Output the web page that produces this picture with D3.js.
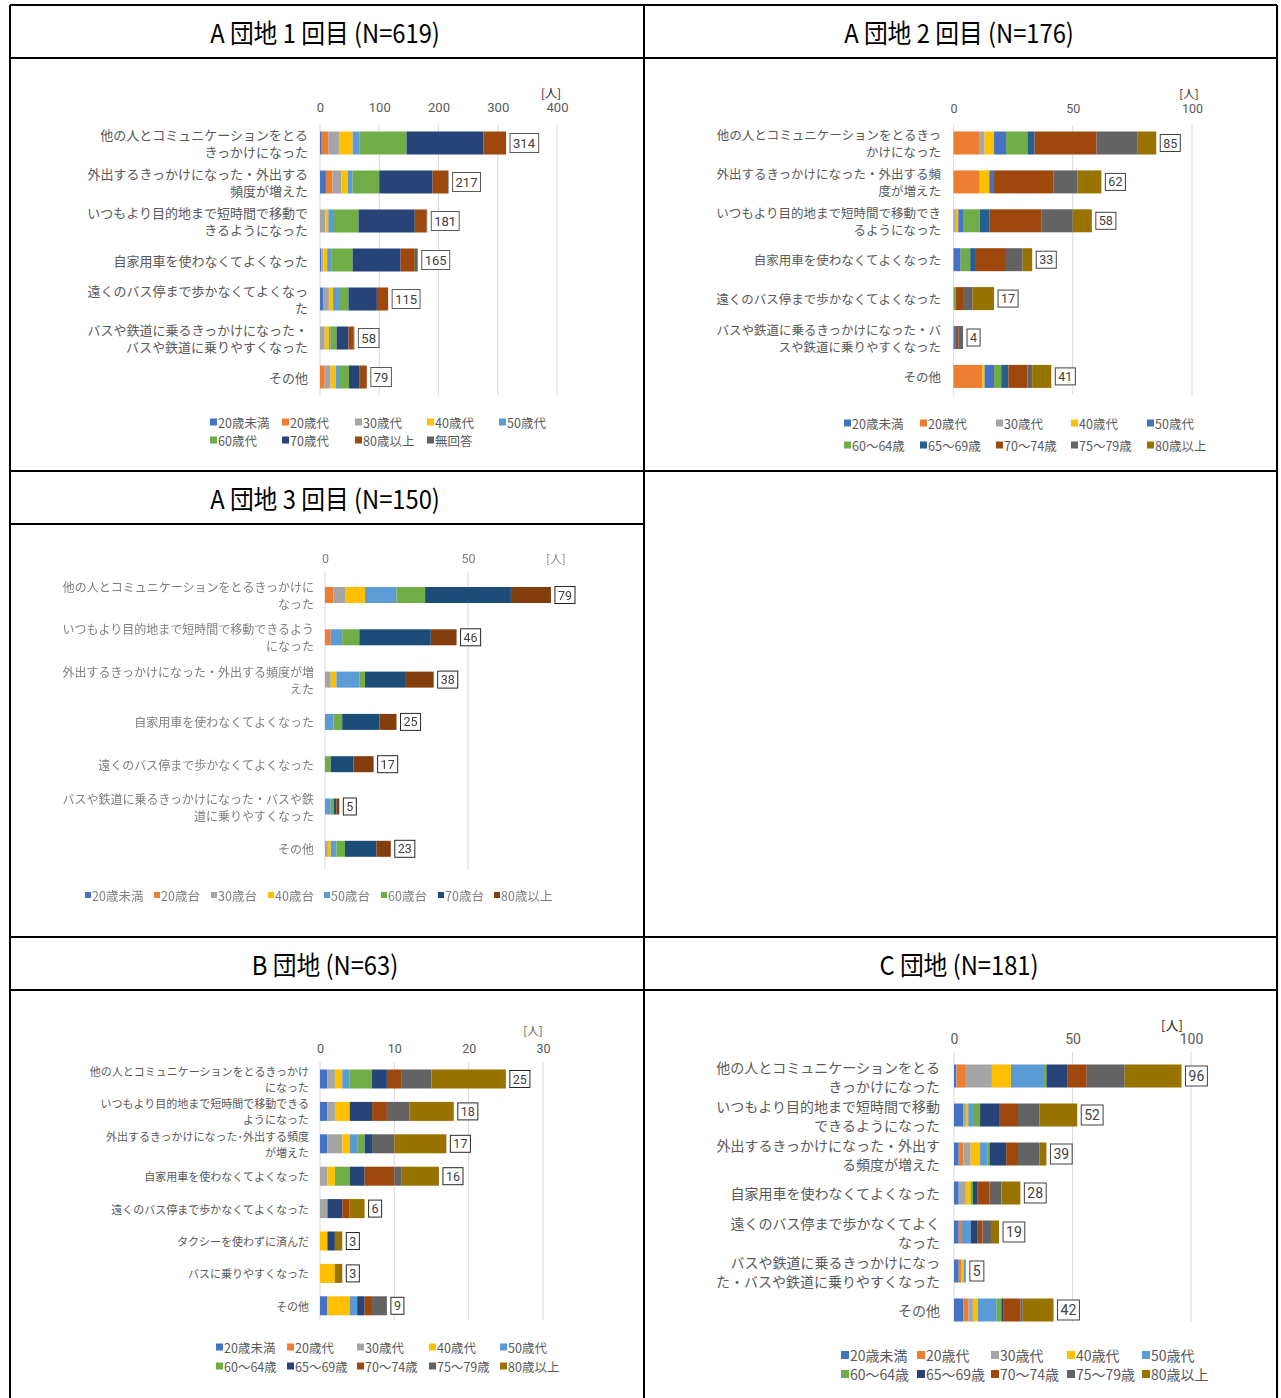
<!DOCTYPE html>
<html lang="ja">
<head>
<meta charset="utf-8">
<script src="https://cdn.jsdelivr.net/npm/d3@7"></script>
<style>
  html, body { margin: 0; padding: 0; background: #fff; }
  svg { display: block; font-family: "Noto Sans CJK JP", "Noto Sans", sans-serif; }
</style>
</head>
<body>
<script>
// ---------- data ----------
// A団地 1回目 (N=619)
const a1Categories = [
  "他の人とコミュニケーションをとる\nきっかけになった",
  "外出するきっかけになった・外出する\n頻度が増えた",
  "いつもより目的地まで短時間で移動で\nきるようになった",
  "自家用車を使わなくてよくなった",
  "遠くのバス停まで歩かなくてよくなっ\nた",
  "バスや鉄道に乗るきっかけになった・\nバスや鉄道に乗りやすくなった",
  "その他"
];
const a1Groups = ["20歳未満", "20歳代", "30歳代", "40歳代", "50歳代", "60歳代", "70歳代", "80歳以上", "無回答"];
const a1Values = [
  [3, 11, 19, 22, 12, 79, 130, 38, 0],
  [10, 11, 15, 11, 8, 45, 90, 26, 1],
  [0, 0, 9, 5, 8, 43, 95, 20, 1],
  [2, 1, 3, 6, 8, 35, 81, 24, 5],
  [5, 0, 10, 7, 10, 16, 48, 19, 0],
  [0, 0, 8, 7, 3, 10, 20, 9, 1],
  [0, 8, 10, 9, 5, 17, 18, 12, 0]
];

// A団地 2回目 (N=176)
const a2Categories = [
  "他の人とコミュニケーションをとるきっ\nかけになった",
  "外出するきっかけになった・外出する頻\n度が増えた",
  "いつもより目的地まで短時間で移動でき\nるようになった",
  "自家用車を使わなくてよくなった",
  "遠くのバス停まで歩かなくてよくなった",
  "バスや鉄道に乗るきっかけになった・バ\nスや鉄道に乗りやすくなった",
  "その他"
];
const a2Groups = ["20歳未満", "20歳代", "30歳代", "40歳代", "50歳代", "60～64歳", "65～69歳", "70～74歳", "75～79歳", "80歳以上"];
const a2Values = [
  [0, 11, 2, 4, 5, 9, 3, 26, 17, 8],
  [0, 11, 0, 4, 2, 0, 0, 25, 10, 10],
  [0, 0, 1, 1, 2, 7, 4, 22, 13, 8],
  [0, 0, 0, 0, 3, 4, 2, 13, 7, 4],
  [0, 0, 0, 0, 0, 1, 0, 3, 4, 9],
  [0, 0, 0, 0, 1, 0, 0, 1, 2, 0],
  [0, 12, 0, 1, 4, 3, 3, 8, 2, 8]
];

// A団地 3回目 (N=150)
const a3Categories = [
  "他の人とコミュニケーションをとるきっかけに\nなった",
  "いつもより目的地まで短時間で移動できるよう\nになった",
  "外出するきっかけになった・外出する頻度が増\nえた",
  "自家用車を使わなくてよくなった",
  "遠くのバス停まで歩かなくてよくなった",
  "バスや鉄道に乗るきっかけになった・バスや鉄\n道に乗りやすくなった",
  "その他"
];
const a3Groups = ["20歳未満", "20歳台", "30歳台", "40歳台", "50歳台", "60歳台", "70歳台", "80歳以上"];
const a3Values = [
  [0, 3, 4, 7, 11, 10, 30, 14],
  [0, 2, 0, 0, 4, 6, 25, 9],
  [0, 0, 2, 2, 8, 2, 14, 10],
  [0, 0, 0, 0, 3, 3, 13, 6],
  [0, 0, 0, 0, 0, 2, 8, 7],
  [0, 0, 0, 0, 2, 1, 1, 1],
  [0, 0, 1, 1, 2, 3, 11, 5]
];

// B団地 (N=63)
const bCategories = [
  "他の人とコミュニケーションをとるきっかけ\nになった",
  "いつもより目的地まで短時間で移動できる\nようになった",
  "外出するきっかけになった･外出する頻度\nが増えた",
  "自家用車を使わなくてよくなった",
  "遠くのバス停まで歩かなくてよくなった",
  "タクシーを使わずに済んだ",
  "バスに乗りやすくなった",
  "その他"
];
const bGroups = ["20歳未満", "20歳代", "30歳代", "40歳代", "50歳代", "60～64歳", "65～69歳", "70～74歳", "75～79歳", "80歳以上"];
const bValues = [
  [1, 0, 1, 1, 1, 3, 2, 2, 4, 10],
  [1, 0, 1, 2, 0, 0, 3, 2, 3, 6],
  [1, 0, 2, 1, 1, 1, 1, 0, 3, 7],
  [0, 0, 1, 1, 0, 2, 2, 4, 1, 5],
  [0, 0, 1, 0, 0, 0, 2, 1, 0, 2],
  [0, 0, 0, 1, 0, 0, 1, 0, 0, 1],
  [0, 0, 0, 2, 0, 0, 0, 0, 0, 1],
  [1, 0, 0, 3, 1, 0, 1, 1, 2, 0]
];

// C団地 (N=181)
const cCategories = [
  "他の人とコミュニケーションをとる\nきっかけになった",
  "いつもより目的地まで短時間で移動\nできるようになった",
  "外出するきっかけになった・外出す\nる頻度が増えた",
  "自家用車を使わなくてよくなった",
  "遠くのバス停まで歩かなくてよく\nなった",
  "バスや鉄道に乗るきっかけになっ\nた・バスや鉄道に乗りやすくなった",
  "その他"
];
const cGroups = ["20歳未満", "20歳代", "30歳代", "40歳代", "50歳代", "60～64歳", "65～69歳", "70～74歳", "75～79歳", "80歳以上"];
const cValues = [
  [1, 4, 11, 8, 14, 1, 9, 8, 16, 24],
  [4, 0, 1, 1, 2, 3, 8, 8, 9, 16],
  [2, 2, 3, 4, 3, 1, 7, 5, 9, 3],
  [2, 0, 3, 2, 0, 1, 2, 5, 5, 8],
  [2, 1, 0, 0, 4, 0, 3, 2, 4, 3],
  [2, 1, 0, 1, 1, 0, 0, 0, 0, 0],
  [4, 2, 2, 2, 8, 2, 1, 7, 1, 13]
];

// ---------- colours ----------
const officeA1 = ["#4472C4", "#ED7D31", "#A5A5A5", "#FFC000", "#5B9BD5", "#70AD47", "#264478", "#9E480E", "#636363"];
const officeA2 = ["#4472C4", "#ED7D31", "#A5A5A5", "#FFC000", "#4472C4", "#70AD47", "#255E91", "#9E480E", "#636363", "#997300"];
const officeA3 = ["#4472C4", "#ED7D31", "#A5A5A5", "#FFC000", "#5B9BD5", "#70AD47", "#1F4E79", "#843C0C"];
const officeBC = ["#4472C4", "#ED7D31", "#A5A5A5", "#FFC000", "#5B9BD5", "#70AD47", "#264478", "#9E480E", "#636363", "#997300"];

const W = 1281, H = 1398;
const svg = d3.select("body").append("svg").attr("width", W).attr("height", H);

svg.append("defs").append("filter").attr("id", "soft")
  .append("feGaussianBlur").attr("stdDeviation", 0.45);

// ---------- table frame and titles ----------
const frame = svg.append("g").attr("stroke", "#000").attr("stroke-width", 2);
const L = 10, M = 644, R = 1277;
[[L, 5, R, 5], [L, 58, R, 58], [L, 471, R, 471], [L, 524, M, 524],
 [L, 937, R, 937], [L, 990, R, 990],
 [L, 5, L, H], [M, 5, M, H], [R, 5, R, H]]
  .forEach(([x1, y1, x2, y2]) => frame.append("line")
    .attr("x1", x1).attr("y1", y1).attr("x2", x2).attr("y2", y2));

const titles = [
  { t: "A 団地 1 回目 (N=619)", x: 325, y: 31 },
  { t: "A 団地 2 回目 (N=176)", x: 959, y: 31 },
  { t: "A 団地 3 回目 (N=150)", x: 325, y: 497 },
  { t: "B 団地 (N=63)", x: 325, y: 963 },
  { t: "C 団地 (N=181)", x: 959, y: 963 }
];
svg.append("g").selectAll("text").data(titles).join("text")
  .attr("x", d => d.x).attr("y", d => d.y)
  .attr("text-anchor", "middle").attr("dominant-baseline", "central")
  .attr("font-size", 25).attr("fill", "#000")
  .attr("transform", d => `translate(${d.x},${d.y}) scale(0.95,1.05) translate(${-d.x},${-d.y})`)
  .text(d => d.t);

// ---------- one stacked bar chart ----------
function drawPanel(p) {
  const g = svg.append("g");
  if (p.soft) g.attr("filter", "url(#soft)");
  const n = p.categories.length;
  const x = d3.scaleLinear().domain([0, p.max]).range([p.x0, p.x1]);
  const pad = 1 - p.barH / p.step;
  const y = d3.scaleBand().domain(p.categories)
    .range([p.c0 - p.step / 2, p.c0 - p.step / 2 + n * p.step])
    .paddingInner(pad).paddingOuter(pad / 2);

  // gridlines
  g.append("g").selectAll("line").data(p.ticks).join("line")
    .attr("x1", d => x(d)).attr("x2", d => x(d))
    .attr("y1", p.gridTop).attr("y2", p.gridBottom)
    .attr("stroke", "#D9D9D9").attr("stroke-width", 1);

  // tick labels
  const ax = g.append("g").attr("transform", `translate(0,${p.tickY})`)
    .call(d3.axisTop(x).tickValues(p.ticks).tickSize(0).tickPadding(0).tickFormat(d3.format("d")));
  ax.select(".domain").remove();
  ax.selectAll("text").attr("font-size", p.tickFont).attr("fill", p.textColor)
    .attr("font-family", "Roboto, 'Noto Sans', sans-serif")
    .attr("dominant-baseline", "central").attr("dy", 0);

  g.append("text").attr("x", p.unitX).attr("y", p.unitY)
    .attr("text-anchor", "middle").attr("dominant-baseline", "central")
    .attr("font-size", p.tickFont - 1).attr("fill", p.unitColor || p.textColor).text("[人]");

  // stacked segments
  const keys = p.groups.map((_, i) => i);
  const rows = p.values.map((v, i) => Object.assign({ cat: p.categories[i] }, v));
  const series = d3.stack().keys(keys)(rows);
  g.append("g").selectAll("g").data(series).join("g")
    .attr("fill", s => p.colors[s.key])
    .selectAll("rect").data(s => s).join("rect")
    .attr("x", d => x(d[0])).attr("width", d => Math.max(0, x(d[1]) - x(d[0])))
    .attr("y", d => y(d.data.cat)).attr("height", y.bandwidth());

  // category labels
  const lab = g.append("g").selectAll("text").data(p.categories).join("text")
    .attr("text-anchor", "end").attr("font-size", p.labelFont).attr("fill", p.textColor);
  lab.each(function (c) {
    const lines = c.split("\n");
    const cy = y(c) + y.bandwidth() / 2;
    const t = d3.select(this);
    lines.forEach((ln, i) => {
      t.append("tspan").attr("x", p.labelX)
        .attr("y", cy + (i - (lines.length - 1) / 2) * p.lineH)
        .attr("dominant-baseline", "central").text(ln);
    });
  });

  // total labels in boxes
  const totals = p.values.map(v => d3.sum(v));
  p.categories.forEach((c, i) => {
    const cy = y(c) + y.bandwidth() / 2;
    const bx = x(totals[i]) + 4;
    const tg = g.append("g");
    const t = tg.append("text").attr("x", bx + p.boxPad).attr("y", cy)
      .attr("dominant-baseline", "central").attr("font-size", p.valueFont)
      .attr("font-family", "Roboto, 'Noto Sans', sans-serif")
      .attr("fill", "#404040").text(totals[i]);
    const bb = t.node().getBBox();
    tg.insert("rect", "text").attr("x", bx).attr("y", cy - p.boxH / 2)
      .attr("width", bb.width + 2 * p.boxPad).attr("height", p.boxH)
      .attr("fill", "#fff").attr("stroke", p.boxStroke).attr("stroke-width", 1);
  });

  // legend
  const lg = g.append("g");
  p.groups.forEach((name, i) => {
    const pos = p.legendPos[i];
    lg.append("rect").attr("x", pos[0]).attr("y", pos[1] - p.sq / 2)
      .attr("width", p.sq).attr("height", p.sq).attr("fill", p.colors[i]);
    lg.append("text").attr("x", pos[0] + p.sq + 1).attr("y", pos[1])
      .attr("dominant-baseline", "central").attr("font-size", p.legendFont)
      .attr("fill", p.textColor).text(name);
  });
}

function grid(cols, rowsY, count) {
  const out = [];
  for (let i = 0; i < count; i++) out.push([cols[i % cols.length], rowsY[Math.floor(i / cols.length)]]);
  return out;
}

drawPanel({
  categories: a1Categories, groups: a1Groups, values: a1Values, colors: officeA1,
  max: 400, ticks: [0, 100, 200, 300, 400], x0: 320, x1: 557,
  tickY: 107, tickFont: 13, unitX: 551, unitY: 92, unitColor: "#262626",
  gridTop: 125, gridBottom: 395, c0: 143, step: 39, barH: 23,
  labelX: 308, labelFont: 13, lineH: 17, textColor: "#595959",
  valueFont: 13, boxPad: 3, boxH: 19, boxStroke: "#595959",
  legendPos: grid([210, 282, 355, 427, 499], [422, 440], 9), sq: 7, legendFont: 12.5
});

drawPanel({
  categories: a2Categories, groups: a2Groups, values: a2Values, colors: officeA2,
  max: 100, ticks: [0, 50, 100], x0: 953.5, x1: 1192,
  tickY: 108, tickFont: 12.5, unitX: 1189, unitY: 93, unitColor: "#262626",
  gridTop: 125, gridBottom: 395, c0: 143, step: 38.9, barH: 23,
  labelX: 941, labelFont: 12.5, lineH: 17, textColor: "#595959",
  valueFont: 12.5, boxPad: 3, boxH: 17, boxStroke: "#404040",
  legendPos: grid([844, 920, 996, 1071, 1147], [423, 445], 10), sq: 7, legendFont: 12.5
});

drawPanel({
  categories: a3Categories, groups: a3Groups, values: a3Values, colors: officeA3,
  max: 100, ticks: [0, 50], x0: 325, x1: 611, soft: true,
  tickY: 558, tickFont: 12.5, unitX: 556, unitY: 558,
  gridTop: 572, gridBottom: 870, c0: 595, step: 42.3, barH: 16,
  labelX: 314, labelFont: 12, lineH: 17, textColor: "#7F7F7F",
  valueFont: 12.5, boxPad: 3, boxH: 17, boxStroke: "#262626",
  legendPos: [[85, 895], [154, 895], [211, 895], [268, 895], [324, 895], [381, 895], [438, 895], [494, 895]],
  sq: 6, legendFont: 12.5
});

drawPanel({
  categories: bCategories, groups: bGroups, values: bValues, colors: officeBC,
  max: 30, ticks: [0, 10, 20, 30], x0: 320, x1: 543,
  tickY: 1048, tickFont: 12.5, unitX: 533, unitY: 1030,
  gridTop: 1062, gridBottom: 1320, c0: 1079, step: 32.4, barH: 19,
  labelX: 309, labelFont: 11, lineH: 16, textColor: "#595959",
  valueFont: 12.5, boxPad: 3, boxH: 17, boxStroke: "#262626",
  legendPos: grid([216, 287, 357, 429, 500], [1347, 1366], 10), sq: 7, legendFont: 12.5
});

drawPanel({
  categories: cCategories, groups: cGroups, values: cValues, colors: officeBC,
  max: 100, ticks: [0, 50, 100], x0: 954, x1: 1191,
  tickY: 1039, tickFont: 14, unitX: 1172, unitY: 1024, unitColor: "#262626",
  gridTop: 1052, gridBottom: 1322, c0: 1076, step: 39, barH: 23,
  labelX: 940, labelFont: 14, lineH: 19, textColor: "#595959",
  valueFont: 14, boxPad: 3, boxH: 20, boxStroke: "#404040",
  legendPos: grid([841, 917, 991, 1067, 1142], [1355, 1374], 10), sq: 8, legendFont: 14
});
</script>
</body>
</html>
